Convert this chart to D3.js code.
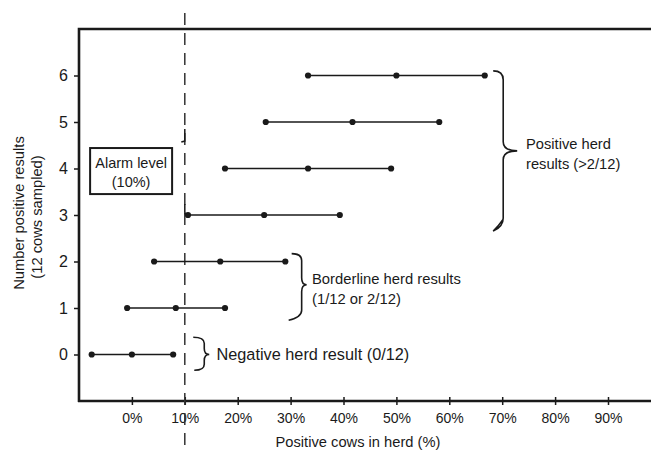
<!DOCTYPE html>
<html><head><meta charset="utf-8">
<script src="https://cdn.jsdelivr.net/npm/d3@7"></script>
<style>
body{margin:0;background:#fff}
text{font-family:"Liberation Sans",Arial,sans-serif;fill:#1a1a1a}
</style>
</head><body>
<svg id="c" width="651" height="452"></svg>
<script>
// ---- data ----
const counts   = [0, 1, 2, 3, 4, 5, 6];
const lowerPct = [-7.6, -0.9, 4.2, 10.6, 17.6, 25.3, 33.3];
const pointPct = [0, 8.3, 16.7, 25.0, 33.3, 41.7, 50.0];
const upperPct = [7.8, 17.6, 29.0, 39.3, 49.0, 58.1, 66.7];
const xTicks   = [0, 10, 20, 30, 40, 50, 60, 70, 80, 90];
const yTicks   = [0, 1, 2, 3, 4, 5, 6];
const alarmLevel = 10;
const xTitle = "Positive cows in herd (%)";
const yTitle1 = "Number positive results";
const yTitle2 = "(12 cows sampled)";

const rows = counts.map((c,i)=>({c, lo:lowerPct[i], pt:pointPct[i], hi:upperPct[i]}));

const svg = d3.select("#c");
const ink = "#1a1a1a";

const x = d3.scaleLinear().domain([-10, 100]).range([79, 79 + 110*5.29]);
const y = d3.scaleLinear().domain([-1, 7]).range([401, 29]);

// ---- axes ----
const gx = svg.append("g").attr("transform", `translate(0,${y(-1)})`)
  .call(d3.axisBottom(x).tickValues(xTicks).tickFormat(d=>d+"%").tickSize(4).tickPadding(8).tickSizeOuter(0));
gx.select(".domain").remove();
gx.selectAll(".tick line").attr("y1",-4).attr("y2",4).attr("stroke",ink).attr("stroke-width",1.5);
gx.selectAll(".tick text").attr("font-size","14px").attr("font-family","Liberation Sans, Arial, sans-serif").attr("fill",ink);

const gy = svg.append("g").attr("transform", `translate(${x(-10)},0)`)
  .call(d3.axisLeft(y).tickValues(yTicks).tickSize(5).tickPadding(6).tickSizeOuter(0));
gy.select(".domain").remove();
gy.selectAll(".tick line").attr("stroke",ink).attr("stroke-width",1.5);
gy.selectAll(".tick text").attr("font-size","16px").attr("font-family","Liberation Sans, Arial, sans-serif").attr("fill",ink);

// frame (left, top, bottom)
svg.append("path")
  .attr("d", `M651,${y(7)} L${x(-10)},${y(7)} L${x(-10)},${y(-1)+1} M${x(-10)-1},${y(-1)} L651,${y(-1)}`)
  .attr("fill","none").attr("stroke",ink).attr("stroke-width",2.6);

// ---- alarm line ----
svg.append("line")
  .attr("x1", x(alarmLevel)).attr("x2", x(alarmLevel))
  .attr("y1", 13).attr("y2", 452)
  .attr("stroke", "#333").attr("stroke-width", 1.5).attr("stroke-dasharray","12,8");

// small marks at the alarm line
svg.append("path")
  .attr("d", `M${x(alarmLevel)},${y(4.59)-12} L${x(alarmLevel)},${y(4.59)} L${x(alarmLevel)-3.5},${y(4.59)+1}`)
  .attr("fill","none").attr("stroke",ink).attr("stroke-width",1.5);
svg.append("path")
  .attr("d", `M${x(alarmLevel)},${y(3)-11} L${x(alarmLevel)},${y(3)-3} Q${x(alarmLevel)},${y(3)} ${x(alarmLevel)+3},${y(3)}`)
  .attr("fill","none").attr("stroke",ink).attr("stroke-width",1.5);

// ---- range lines and dots ----
const g = svg.append("g");
g.selectAll("line.rng").data(rows).join("line").attr("class","rng")
  .attr("x1", d=>x(d.lo)).attr("x2", d=>x(d.hi))
  .attr("y1", d=>y(d.c)).attr("y2", d=>y(d.c))
  .attr("stroke", ink).attr("stroke-width", 1.6);
const pts = rows.flatMap(d=>[{c:d.c,v:d.lo},{c:d.c,v:d.pt},{c:d.c,v:d.hi}]);
g.selectAll("circle").data(pts).join("circle")
  .attr("cx", d=>x(d.v)).attr("cy", d=>y(d.c)).attr("r", 3.1).attr("fill", ink);

// ---- alarm box ----
svg.append("rect")
  .attr("x", x(-7.9)).attr("y", y(4.44))
  .attr("width", x(7.6)-x(-7.9)).attr("height", y(3.45)-y(4.44))
  .attr("fill","#fff").attr("stroke",ink).attr("stroke-width",2);
svg.append("text").attr("x", (x(-7.9)+x(7.6))/2).attr("y", 168).attr("text-anchor","middle")
  .attr("font-size","14.5px").text("Alarm level");
svg.append("text").attr("x", (x(-7.9)+x(7.6))/2).attr("y", 187).attr("text-anchor","middle")
  .attr("font-size","14.5px").text("(10%)");

// ---- braces ----
function brace(x0, yTop, yTip, yBot, w, tipW, r, endDx, endDy){
  const x1 = x0 + w;
  return `M${x0},${yTop} Q${x1},${yTop} ${x1},${yTop+r} L${x1},${yTip-r} Q${x1},${yTip} ${x1+tipW},${yTip} `+
         `Q${x1},${yTip} ${x1},${yTip+r} L${x1},${yBot-r} Q${x1},${yBot} ${x0+endDx},${yBot+endDy}`;
}
// positive
svg.append("path").attr("d", brace(x(68.3), y(6.1), y(4.38), y(2.74), 10, 14, 9, 0, 4)
   + ` Q${x(68.3)+6},${y(2.74)-2} ${x(68.3)+10},${y(2.74)-8}`)
  .attr("fill","none").attr("stroke",ink).attr("stroke-width",1.6);
// borderline
svg.append("path").attr("d", brace(x(30.2), y(2.17), y(1.5), y(0.8), 10, 5, 7, -3, 3))
  .attr("fill","none").attr("stroke",ink).attr("stroke-width",1.6);
// negative
svg.append("path").attr("d", brace(x(11.6), y(0.37), y(0), y(-0.34), 11, 5, 6, 1, 0))
  .attr("fill","none").attr("stroke",ink).attr("stroke-width",1.6);

// ---- annotation texts ----
function label(xp, yp, lines, size, lh){
  const t = svg.append("text").attr("x", xp).attr("y", yp).attr("font-size", size);
  lines.forEach((s,i)=> t.append("tspan").attr("x", xp).attr("dy", i? lh : 0).text(s));
}
label(526, 149, ["Positive herd", "results (>2/12)"], "14.7px", 20);
label(312, 284, ["Borderline herd results", "(1/12 or 2/12)"], "14.8px", 20);
label(216.5, 360, ["Negative herd result (0/12)"], "16.3px", 0);

// ---- axis titles ----
svg.append("text").attr("x", 358).attr("y", 447).attr("text-anchor","middle")
  .attr("font-size","14.7px").text(xTitle);
svg.append("text").attr("transform","translate(24,213) rotate(-90)").attr("text-anchor","middle")
  .attr("font-size","14.7px").text(yTitle1);
svg.append("text").attr("transform","translate(42,217) rotate(-90)").attr("text-anchor","middle")
  .attr("font-size","14.7px").text(yTitle2);
</script>
</body></html>
